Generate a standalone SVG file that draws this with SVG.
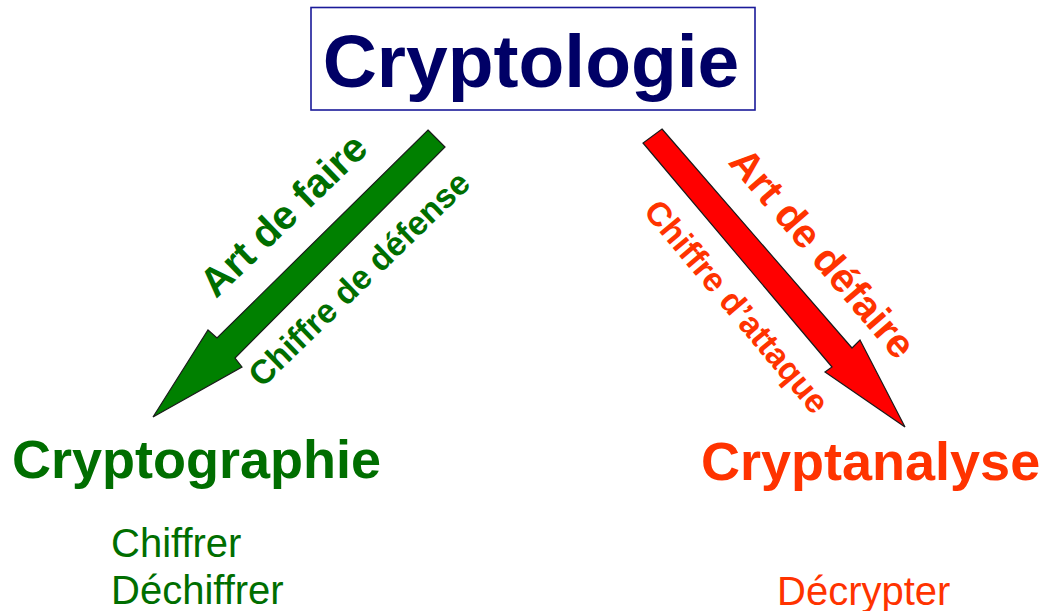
<svg xmlns="http://www.w3.org/2000/svg" width="1048" height="611" viewBox="0 0 1048 611">
  <style>
    text { font-family: "Liberation Sans", Arial, sans-serif; }
    .title { font-weight: bold; font-size: 75px; fill: #000066; }
    .green { fill: #006e00; }
    .red { fill: #ff3300; }
    .head { font-weight: bold; font-size: 54px; }
    .lbl { font-weight: bold; font-size: 40.5px; }
    .sub { font-weight: bold; font-size: 33.5px; }
    .item { font-size: 40px; }
    .arrow { stroke: #1a1a1a; stroke-width: 1.2; stroke-linejoin: miter; }
  </style>

  <!-- top node -->
  <g id="cryptologie">
    <rect x="311" y="7.5" width="444" height="102.5" fill="#ffffff" stroke="#1a1a99" stroke-width="1.6"/>
    <text class="title" x="531" y="87" text-anchor="middle">Cryptologie</text>
  </g>

  <!-- connectors: block arrows with their labels -->
  <g id="connectors">
    <g id="arrow-faire">
      <polygon class="arrow" fill="#008000" points="428,130 445,147 235,358 242,367 153,417 208,330 217,338"/>
      <text class="lbl green" transform="translate(293,225) rotate(-44)" text-anchor="middle">Art de faire</text>
      <text class="sub green" transform="translate(367,287) rotate(-44)" text-anchor="middle">Chiffre de défense</text>
    </g>
    <g id="arrow-defaire">
      <polygon class="arrow" fill="#ff0000" points="662,129 852,348 860,340 905,427 825,372 832,367 643,143"/>
      <text class="lbl red" transform="translate(812,262) rotate(49.5)" text-anchor="middle">Art de défaire</text>
      <text class="sub red" transform="translate(728,314) rotate(50)" text-anchor="middle">Chiffre d’attaque</text>
    </g>
  </g>

  <!-- left node -->
  <g id="cryptographie">
    <text class="head green" x="12" y="478">Cryptographie</text>
    <text class="item green" x="111" y="557">Chiffrer</text>
    <text class="item green" x="111" y="604">Déchiffrer</text>
  </g>

  <!-- right node -->
  <g id="cryptanalyse">
    <text class="head red" x="701" y="480">Cryptanalyse</text>
    <text class="item red" x="777" y="605">Décrypter</text>
  </g>
</svg>
